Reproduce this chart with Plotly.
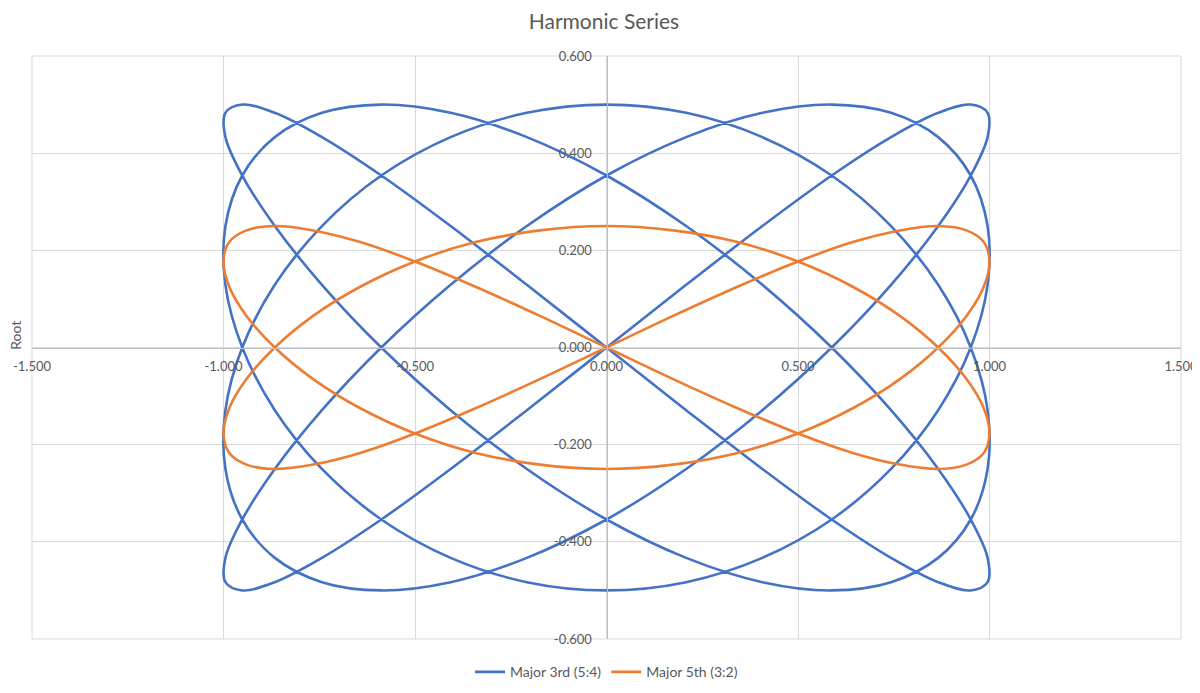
import plotly.graph_objects as go

# Lissajous points (x = root, y = interval)
major3_x = [
    0, 0.208, 0.407, 0.588, 0.743, 0.866, 0.951, 0.995, 0.995, 0.951, 0.866, 0.743, 0.588, 0.407, 0.208,
    0, -0.208, -0.407, -0.588, -0.743, -0.866, -0.951, -0.995, -0.995, -0.951, -0.866, -0.743, -0.588, -0.407, -0.208,
    0, 0.208, 0.407, 0.588, 0.743, 0.866, 0.951, 0.995, 0.995, 0.951, 0.866, 0.743, 0.588, 0.407, 0.208,
    0, -0.208, -0.407, -0.588, -0.743, -0.866, -0.951, -0.995, -0.995, -0.951, -0.866, -0.743, -0.588, -0.407, -0.208,
    0, 0.208, 0.407, 0.588, 0.743, 0.866, 0.951, 0.995, 0.995, 0.951, 0.866, 0.743, 0.588, 0.407, 0.208,
    0, -0.208, -0.407, -0.588, -0.743, -0.866, -0.951, -0.995, -0.995, -0.951, -0.866, -0.743, -0.588, -0.407, -0.208,
    0, 0.208, 0.407, 0.588, 0.743, 0.866, 0.951, 0.995, 0.995, 0.951, 0.866, 0.743, 0.588, 0.407, 0.208,
    0, -0.208, -0.407, -0.588, -0.743, -0.866, -0.951, -0.995, -0.995, -0.951, -0.866, -0.743, -0.588, -0.407, -0.208,
    0,
]
major3_y = [
    0, 0.129, 0.25, 0.354, 0.433, 0.483, 0.5, 0.483, 0.433, 0.354, 0.25, 0.129,
    0, -0.129, -0.25, -0.354, -0.433, -0.483, -0.5, -0.483, -0.433, -0.354, -0.25, -0.129,
    0, 0.129, 0.25, 0.354, 0.433, 0.483, 0.5, 0.483, 0.433, 0.354, 0.25, 0.129,
    0, -0.129, -0.25, -0.354, -0.433, -0.483, -0.5, -0.483, -0.433, -0.354, -0.25, -0.129,
    0, 0.129, 0.25, 0.354, 0.433, 0.483, 0.5, 0.483, 0.433, 0.354, 0.25, 0.129,
    0, -0.129, -0.25, -0.354, -0.433, -0.483, -0.5, -0.483, -0.433, -0.354, -0.25, -0.129,
    0, 0.129, 0.25, 0.354, 0.433, 0.483, 0.5, 0.483, 0.433, 0.354, 0.25, 0.129,
    0, -0.129, -0.25, -0.354, -0.433, -0.483, -0.5, -0.483, -0.433, -0.354, -0.25, -0.129,
    0, 0.129, 0.25, 0.354, 0.433, 0.483, 0.5, 0.483, 0.433, 0.354, 0.25, 0.129,
    0, -0.129, -0.25, -0.354, -0.433, -0.483, -0.5, -0.483, -0.433, -0.354, -0.25, -0.129,
    0,
]

major5_x = [
    0, 0.174, 0.342, 0.5, 0.643, 0.766, 0.866, 0.94, 0.985, 1, 0.985, 0.94, 0.866, 0.766, 0.643, 0.5, 0.342, 0.174,
    0, -0.174, -0.342, -0.5, -0.643, -0.766, -0.866, -0.94, -0.985, -1, -0.985, -0.94, -0.866, -0.766, -0.643, -0.5, -0.342, -0.174,
    0, 0.174, 0.342, 0.5, 0.643, 0.766, 0.866, 0.94, 0.985, 1, 0.985, 0.94, 0.866, 0.766, 0.643, 0.5, 0.342, 0.174,
    0, -0.174, -0.342, -0.5, -0.643, -0.766, -0.866, -0.94, -0.985, -1, -0.985, -0.94, -0.866, -0.766, -0.643, -0.5, -0.342, -0.174,
    0,
]
major5_y = [
    0, 0.065, 0.125, 0.177, 0.217, 0.241, 0.25, 0.241, 0.217, 0.177, 0.125, 0.065,
    0, -0.065, -0.125, -0.177, -0.217, -0.241, -0.25, -0.241, -0.217, -0.177, -0.125, -0.065,
    0, 0.065, 0.125, 0.177, 0.217, 0.241, 0.25, 0.241, 0.217, 0.177, 0.125, 0.065,
    0, -0.065, -0.125, -0.177, -0.217, -0.241, -0.25, -0.241, -0.217, -0.177, -0.125, -0.065,
    0, 0.065, 0.125, 0.177, 0.217, 0.241, 0.25, 0.241, 0.217, 0.177, 0.125, 0.065,
    0, -0.065, -0.125, -0.177, -0.217, -0.241, -0.25, -0.241, -0.217, -0.177, -0.125, -0.065,
    0,
]

xTicks = [-1.5, -1.0, -0.5, 0.0, 0.5, 1.0, 1.5]
xTickText = ['-1.500', '-1.000', '-0.500', '0.000', '0.500', '1.000', '1.500']
yTicks = [-0.6, -0.4, -0.2, 0.0, 0.2, 0.4, 0.6]
yTickText = ['-0.600', '-0.400', '-0.200', '0.000', '0.200', '0.400', '0.600']

FONT = 'Lato'
GREY = '#595959'

figure = go.Figure()

figure.add_trace(go.Scatter(
    x = major3_x,
    y = major3_y,
    mode = 'lines',
    name = 'Major 3rd (5:4)',
    line = dict(color = '#4472C4', width = 2.6, shape = 'spline', smoothing = 1)
))
figure.add_trace(go.Scatter(
    x = major5_x,
    y = major5_y,
    mode = 'lines',
    name = 'Major 5th (3:2)',
    line = dict(color = '#ED7D31', width = 2.6, shape = 'spline', smoothing = 1)
))

# the page body adds an 8px margin, so the figure is a little smaller
figure.update_layout(
    width = 1192,
    height = 685,
    margin = dict(l = 24, r = 19, t = 48, b = 54, autoexpand = False),
    paper_bgcolor = 'white',
    plot_bgcolor = 'white',
    font = dict(family = FONT, size = 13, color = GREY),
    title = dict(text = 'Harmonic Series', x = 0.5, xanchor = 'center',
                 y = 1 - 14 / 685, yanchor = 'middle',
                 font = dict(family = FONT, size = 21, color = GREY)),
    showlegend = True,
    legend = dict(orientation = 'h', x = 0.5, xanchor = 'center', y = -0.057, yanchor = 'middle',
                  font = dict(family = FONT, size = 14, color = GREY), itemwidth = 30),
    xaxis = dict(range = [-1.5, 1.5], tickvals = xTicks, ticktext = xTickText,
                 anchor = 'free', position = 0.5, showline = True, linecolor = '#BFBFBF', linewidth = 1,
                 showgrid = True, gridcolor = '#D9D9D9', gridwidth = 1, zeroline = False,
                 ticks = '', ticklabelstandoff = 7, automargin = False, fixedrange = True),
    yaxis = dict(range = [-0.6, 0.6], tickvals = yTicks, ticktext = yTickText,
                 anchor = 'free', position = 0.5, showline = True, linecolor = '#BFBFBF', linewidth = 1,
                 showgrid = True, gridcolor = '#D9D9D9', gridwidth = 1, zeroline = False,
                 ticks = '', ticklabelstandoff = 12, automargin = False, fixedrange = True),
    shapes = [dict(type = 'rect', xref = 'paper', yref = 'paper', x0 = 0, x1 = 1, y0 = 0, y1 = 1,
                   line = dict(color = '#D9D9D9', width = 1), layer = 'below')],
    annotations = [dict(text = 'Root', xref = 'paper', yref = 'paper', x = -16 / 1149, y = 0.52,
                        xanchor = 'center', yanchor = 'middle', textangle = -90, showarrow = False,
                        borderpad = 0, font = dict(family = FONT, size = 14, color = GREY))]
)

figure.write_html('out.html')
